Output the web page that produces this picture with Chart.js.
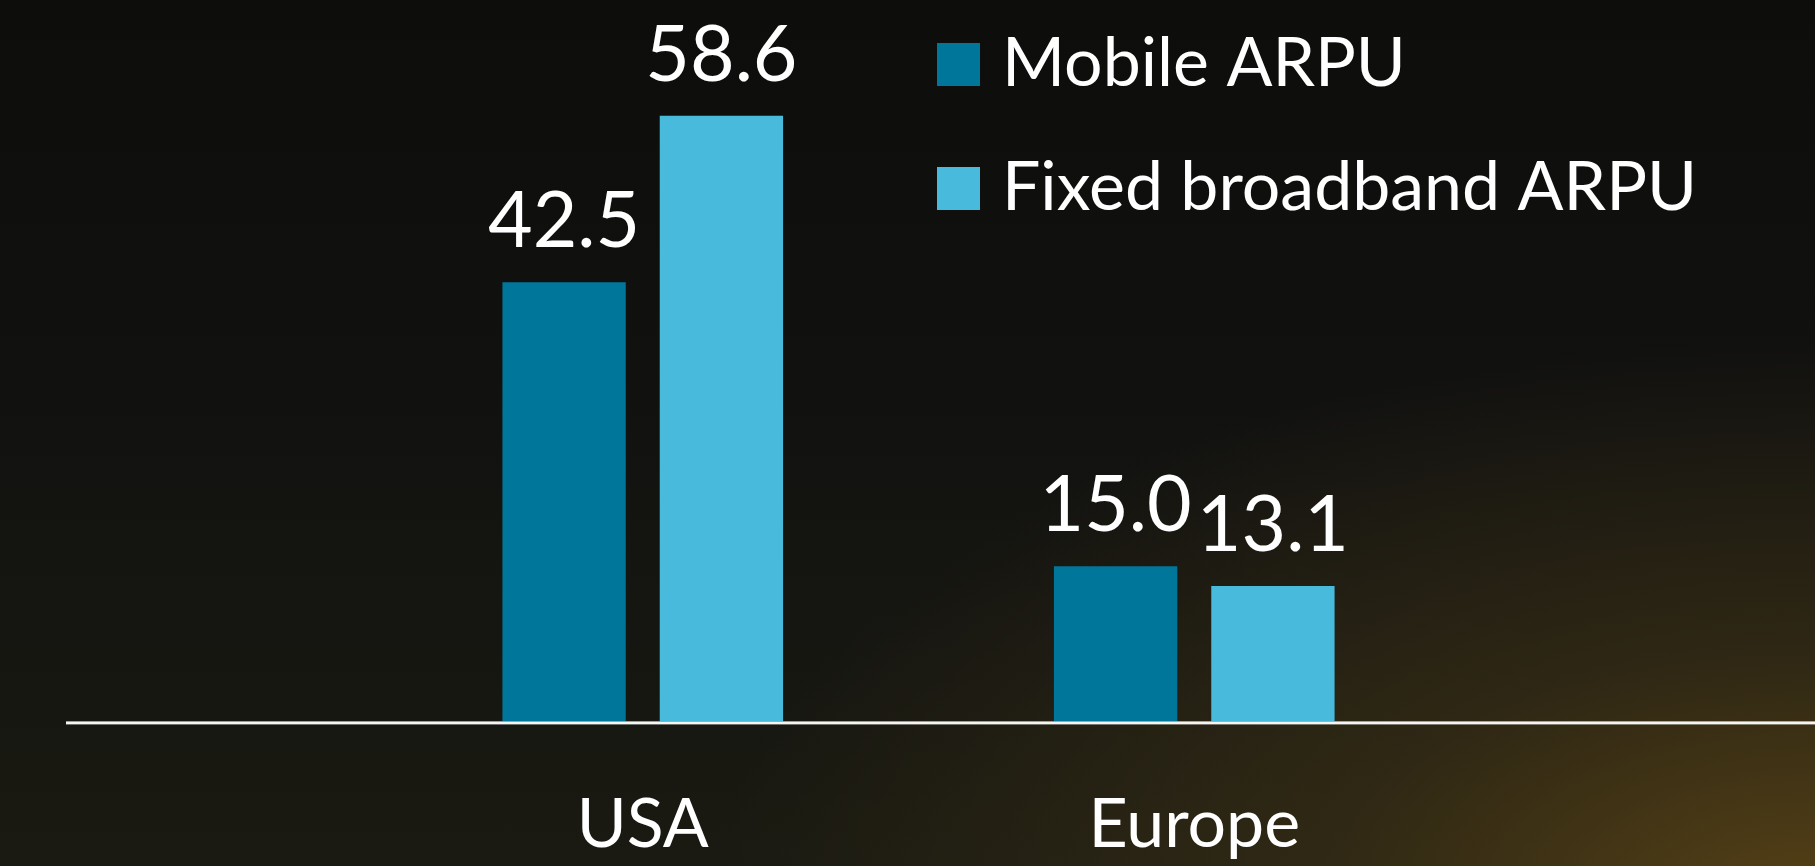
<!DOCTYPE html>
<html><head><meta charset="utf-8">
<script src="https://cdn.jsdelivr.net/npm/chart.js@4/dist/chart.umd.min.js"></script>
<style>
html,body{margin:0;padding:0;width:1815px;height:866px;overflow:hidden;}
body{background:
 radial-gradient(ellipse 1100px 560px at 1815px 900px, rgba(84,64,22,1) 0%, rgba(62,50,22,0.6) 45%, rgba(30,30,20,0) 100%),
 linear-gradient(180deg,#0d0d0b 0%, #111110 45%, #1a1a12 100%);}
#wrap{position:absolute;left:0;top:0;width:1815px;height:866px;}
</style></head>
<body><div id="wrap"><canvas id="c"></canvas></div>
<script>
const categories = ['USA', 'Europe'];
const seriesNames = ['Mobile ARPU', 'Fixed broadband ARPU'];
const mobileARPU = [42.5, 15.0];
const fixedBroadbandARPU = [58.6, 13.1];
const seriesColors = ['#00769b', '#48badb'];

const FONT = 'Lato';

const valueLabels = {
  id: 'valueLabels',
  afterDatasetsDraw(chart) {
    const ctx = chart.ctx;
    ctx.save();
    ctx.fillStyle = '#ffffff';
    ctx.font = '77px ' + FONT;
    ctx.textAlign = 'center';
    ctx.textBaseline = 'alphabetic';
    chart.data.datasets.forEach((ds, i) => {
      const meta = chart.getDatasetMeta(i);
      meta.data.forEach((el, j) => {
        ctx.fillText(Number(ds.data[j]).toFixed(1), el.x, el.y - 35);
      });
    });
    ctx.restore();
  }
};

const baseLine = {
  id: 'baseLine',
  afterDatasetsDraw(chart) {
    const ctx = chart.ctx;
    const y = chart.scales.y.getPixelForValue(0);
    ctx.save();
    ctx.fillStyle = '#f4f4f2';
    ctx.fillRect(66, y, chart.width - 66, 3);
    ctx.restore();
  }
};

const customLegend = {
  id: 'customLegend',
  afterDraw(chart) {
    const ctx = chart.ctx;
    ctx.save();
    ctx.font = '68px ' + FONT;
    ctx.textBaseline = 'alphabetic';
    ctx.textAlign = 'left';
    chart.data.datasets.forEach((ds, i) => {
      const top = 43 + i * 124;
      ctx.fillStyle = ds.backgroundColor;
      ctx.fillRect(937, top, 43, 43);
      ctx.fillStyle = '#ffffff';
      ctx.fillText(ds.label, 1002, top + 43);
    });
    ctx.restore();
  }
};

new Chart(document.getElementById('c'), {
  type: 'bar',
  data: {
    labels: categories,
    datasets: [
      { label: seriesNames[0], data: mobileARPU, backgroundColor: seriesColors[0], borderWidth: 0 },
      { label: seriesNames[1], data: fixedBroadbandARPU, backgroundColor: seriesColors[1], borderWidth: 0 }
    ]
  },
  options: {
    responsive: true,
    maintainAspectRatio: false,
    animation: false,
    categoryPercentage: 0.5705,
    barPercentage: 0.784,
    layout: { padding: { left: 367, right: 345, top: 0, bottom: -63 } },
    plugins: { legend: { display: false }, tooltip: { enabled: false } },
    scales: {
      x: {
        grid: { display: false, drawTicks: false },
        border: { display: false },
        ticks: { color: '#ffffff', font: { family: FONT, size: 68 }, padding: 63 }
      },
      y: { display: false, min: 0, max: 69.8 }
    }
  },
  plugins: [valueLabels, baseLine, customLegend]
});
</script>
</body></html>
